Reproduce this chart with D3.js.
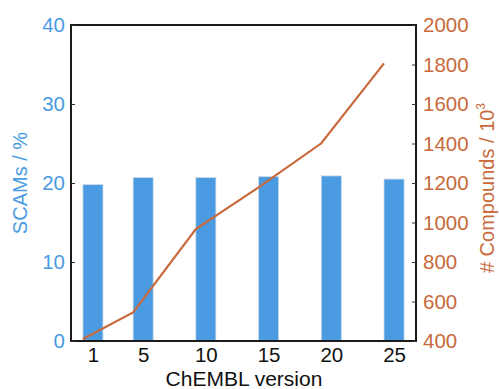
<!DOCTYPE html>
<head>
    <meta charset="utf-8" />
    <script src="https://d3js.org/d3.v7.min.js"></script>
    <style>
        body { margin: 0; background: #fff; }
        text { font-family: "Liberation Sans", Arial, sans-serif; }
    </style>
</head>
<body>
<script>
    // chart data
    var versions = [1, 5, 10, 15, 20, 25];
    var scams = [19.8, 20.7, 20.7, 20.8, 20.9, 20.5];
    var compounds = [410, 545, 967, 1178, 1401, 1806];
    var leftTicks = [0, 10, 20, 30, 40];
    var rightTicks = [400, 600, 800, 1000, 1200, 1400, 1600, 1800, 2000];

    var width = 499, height = 389;
    var blue = "#4a9be2", orange = "#c86a3b";
    var m = {left: 71, right: 416, top: 25, bottom: 341};

    var svg = d3.select("body").append("svg")
        .attr("width", width).attr("height", height);

    var x = d3.scaleLinear().domain([-0.75, 26.75]).range([m.left, m.right]);
    var yL = d3.scaleLinear().domain([0, 40]).range([m.bottom, m.top]);
    var yR = d3.scaleLinear().domain([400, 2000]).range([m.bottom, m.top]);
    var barW = 1.6;

    // bars
    svg.selectAll("rect.bar").data(versions).join("rect")
        .attr("class", "bar")
        .attr("x", function (d) { return x(d - barW / 2); })
        .attr("width", x(barW) - x(0))
        .attr("y", function (d, i) { return yL(scams[i]); })
        .attr("height", function (d, i) { return yL(0) - yL(scams[i]); })
        .style("fill", blue)
        .style("stroke", "#cfdce8")
        .style("stroke-width", 0.8);

    // line, drawn at bar left edges like the original
    var line = d3.line()
        .x(function (d) { return x(d - barW / 2); })
        .y(function (d, i) { return yR(compounds[i]); });
    svg.append("path").datum(versions)
        .attr("d", line)
        .style("fill", "none")
        .style("stroke", orange)
        .style("stroke-width", 2.2);

    // frame
    svg.append("rect")
        .attr("x", m.left).attr("y", m.top)
        .attr("width", m.right - m.left).attr("height", m.bottom - m.top)
        .style("fill", "none").style("stroke", "#1a1a1a").style("stroke-width", 2);

    // left axis
    var gl = svg.append("g").attr("transform", "translate(" + m.left + ",0)")
        .call(d3.axisLeft(yL).tickValues(leftTicks).tickSize(-4).tickPadding(6));
    gl.select(".domain").remove();
    gl.selectAll("line").style("stroke", "#333");
    gl.selectAll("text").style("fill", blue).style("font-size", "20.5px");

    // right axis
    var gr = svg.append("g").attr("transform", "translate(" + m.right + ",0)")
        .call(d3.axisRight(yR).tickValues(rightTicks).tickFormat(d3.format("d"))
            .tickSize(-4).tickPadding(7));
    gr.select(".domain").remove();
    gr.selectAll("line").style("stroke", "#333");
    gr.selectAll("text").style("fill", orange).style("font-size", "20.5px");

    // bottom axis
    var gb = svg.append("g").attr("transform", "translate(0," + m.bottom + ")")
        .call(d3.axisBottom(x).tickValues(versions).tickSize(0).tickPadding(6));
    gb.select(".domain").remove();
    gb.selectAll("text").style("fill", "#111").style("font-size", "20.5px");

    // axis titles
    svg.append("text")
        .attr("transform", "translate(27,183) rotate(-90)")
        .attr("text-anchor", "middle")
        .style("fill", blue).style("font-size", "20px")
        .text("SCAMs / %");

    var rt = svg.append("text")
        .attr("transform", "translate(494,188) rotate(-90)")
        .attr("text-anchor", "middle")
        .style("fill", orange).style("font-size", "20px");
    rt.append("tspan").text("# Compounds / 10");
    rt.append("tspan").attr("dy", -9).style("font-size", "12px").text("3");

    svg.append("text")
        .attr("x", 244).attr("y", 386)
        .attr("text-anchor", "middle")
        .style("fill", "#111").style("font-size", "21px")
        .text("ChEMBL version");
</script>
</body>
